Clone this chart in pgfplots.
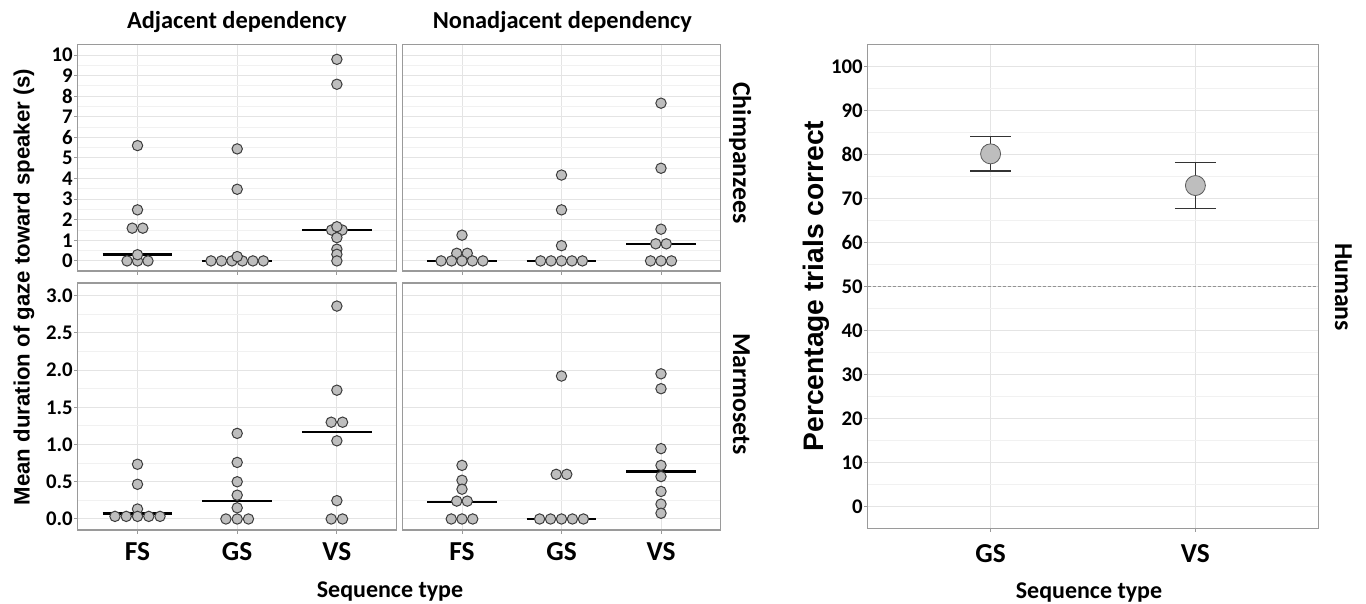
\documentclass[border=0pt]{standalone}
\usepackage{fontspec}
\setmainfont{Carlito}
\newfontfamily\arialfont{Liberation Sans}
\usepackage{pgfplots}
\pgfplotsset{compat=1.18}

\definecolor{ptfill}{HTML}{BEBEBE}
\definecolor{ptedge}{HTML}{3C3C3C}
\definecolor{majgrid}{HTML}{E4E4E4}
\definecolor{mingrid}{HTML}{F1F1F1}
\definecolor{frame}{HTML}{9A9A9A}

\pgfplotsset{
  facet/.style={
    scale only axis, anchor=north west,
    axis line style={frame, line width=0.6pt},
    tick style={frame, line width=0.5pt},
    tick align=outside, tickpos=left,
    major tick length=1.8pt, minor tick length=0pt,
    grid=both,
    major grid style={majgrid, line width=0.5pt},
    minor grid style={mingrid, line width=0.5pt},
    minor y tick num=1,
    yticklabel style={font=\bfseries\fontsize{10.4}{12}\selectfont, inner xsep=0.5pt},
  },
  dots/.style={only marks, mark=*, mark size=2.6pt,
    mark options={fill=ptfill, draw=ptedge, line width=0.5pt}},
  med/.style={black, line width=1.3pt, no marks},
  cat3/.style={xmin=0.4, xmax=3.6, xtick={1,2,3},
    xticklabel style={font=\bfseries\fontsize{13.7}{15}\selectfont},
    xticklabel shift=1.1pt},
  chimp/.style={ymin=-0.49, ymax=10.52, ytick={0,1,2,3,4,5,6,7,8,9,10},
    width=159.5pt, height=113.35pt},
  marm/.style={ymin=-0.148, ymax=3.17, ytick={0,0.5,1,1.5,2,2.5,3},
    width=159.5pt, height=123.5pt},
}

\begin{document}
\begin{tikzpicture}
\useasboundingbox (0pt,0pt) rectangle (683pt,-302pt);

% adjacent, chimpanzees
\begin{axis}[facet, cat3, chimp, at={(38.85pt,-22.15pt)},
  xticklabels={}, yticklabels={0,1,2,3,4,5,6,7,8,9,10}]
\addplot[dots] coordinates {
  (1,5.6) (1,2.48) (0.947,1.59) (1.053,1.59) (0.895,0) (1,0) (1.105,0) (1,0.3)
  (2,5.44) (2,3.48) (1.7375,0) (1.8425,0) (1.9475,0) (2.0525,0) (2.1575,0) (2.2625,0) (2,0.21)
  (3,9.79) (3,8.58) (2.947,1.5) (3.053,1.5) (3,1.66) (3,1.13) (3,0.57) (3,0.32) (3,0)
};
\addplot[med] coordinates {(0.65,0.32) (1.35,0.32)};
\addplot[med] coordinates {(1.65,0) (2.35,0)};
\addplot[med] coordinates {(2.65,1.5) (3.35,1.5)};
\end{axis}

% nonadjacent, chimpanzees
\begin{axis}[facet, cat3, chimp, at={(201.15pt,-22.15pt)}, width=159.2pt,
  xticklabels={}, yticklabels={}, ytick style={draw=none}]
\addplot[dots] coordinates {
  (1,1.25) (0.947,0.37) (1.053,0.37) (0.79,0) (0.895,0) (1,0) (1.105,0) (1.21,0)
  (2,4.17) (2,2.48) (2,0.74) (1.79,0) (1.895,0) (2,0) (2.105,0) (2.21,0)
  (3,7.66) (3,4.5) (3,1.54) (2.947,0.83) (3.053,0.83) (2.895,0) (3,0) (3.105,0)
};
\addplot[med] coordinates {(0.65,0) (1.35,0)};
\addplot[med] coordinates {(1.65,0) (2.35,0)};
\addplot[med] coordinates {(2.65,0.83) (3.35,0.83)};
\end{axis}

% adjacent, marmosets
\begin{axis}[facet, cat3, marm, at={(38.85pt,-141.5pt)},
  xticklabels={FS,GS,VS}, yticklabels={0.0,0.5,1.0,1.5,2.0,2.5,3.0}]
\addplot[dots] coordinates {
  (1,0.735) (1,0.466) (1,0.134) (0.774,0.035) (0.887,0.035) (1,0.035) (1.113,0.035) (1.226,0.035)
  (2,1.15) (2,0.76) (2,0.50) (2,0.32) (2,0.15) (1.887,0) (2,0) (2.113,0)
  (3,2.86) (3,1.73) (2.943,1.30) (3.057,1.30) (3,1.05) (3,0.246) (2.943,0) (3.057,0)
};
\addplot[med] coordinates {(0.65,0.071) (1.35,0.071)};
\addplot[med] coordinates {(1.65,0.24) (2.35,0.24)};
\addplot[med] coordinates {(2.65,1.17) (3.35,1.17)};
\end{axis}

% nonadjacent, marmosets
\begin{axis}[facet, cat3, marm, at={(201.15pt,-141.5pt)}, width=159.2pt,
  xticklabels={FS,GS,VS}, yticklabels={}, ytick style={draw=none}]
\addplot[dots] coordinates {
  (1,0.72) (1,0.52) (1,0.40) (0.947,0.24) (1.053,0.24) (0.892,0) (1,0) (1.108,0)
  (2,1.92) (1.947,0.60) (2.053,0.60) (1.78,0) (1.89,0) (2,0) (2.11,0) (2.22,0)
  (3,1.95) (3,1.75) (3,0.945) (3,0.72) (3,0.57) (3,0.37) (3,0.20) (3,0.077)
};
\addplot[med] coordinates {(0.65,0.23) (1.35,0.23)};
\addplot[med] coordinates {(1.65,0) (2.35,0)};
\addplot[med] coordinates {(2.65,0.64) (3.35,0.64)};
\end{axis}

% humans
\begin{axis}[facet, at={(433.85pt,-22.15pt)}, width=225.3pt, height=242pt,
  xmin=0.4, xmax=2.6, xtick={1,2}, xticklabels={GS,VS},
  xticklabel style={font=\bfseries\fontsize{13.7}{15}\selectfont}, xticklabel shift=2.8pt,
  ymin=-4.9, ymax=105.1, ytick={0,10,20,30,40,50,60,70,80,90,100},
  yticklabels={0,10,20,30,40,50,60,70,80,90,100}]
\addplot[gray!85, dash pattern=on 1.5pt off 1pt, line width=0.6pt] coordinates {(0.4,50) (2.6,50)};
\addplot[black!80, line width=0.6pt] coordinates {(1,76.3) (1,84.1)};
\addplot[black!80, line width=0.6pt] coordinates {(0.9,84.1) (1.1,84.1)};
\addplot[black!80, line width=0.6pt] coordinates {(0.9,76.3) (1.1,76.3)};
\addplot[black!80, line width=0.6pt] coordinates {(2,67.7) (2,78.3)};
\addplot[black!80, line width=0.6pt] coordinates {(1.9,78.3) (2.1,78.3)};
\addplot[black!80, line width=0.6pt] coordinates {(1.9,67.7) (2.1,67.7)};
\addplot[only marks, mark=*, mark size=5pt,
  mark options={fill=ptfill, draw=gray!70!black, line width=0.4pt}]
  coordinates {(1,80.2) (2,73.0)};
\end{axis}

\node[font=\bfseries\fontsize{12.2}{14}\selectfont, anchor=base] at (118.4pt,-14.15pt) {Adjacent dependency};
\node[font=\bfseries\fontsize{12.2}{14}\selectfont, anchor=base] at (281.2pt,-14.15pt) {Nonadjacent dependency};
\node[font=\bfseries\fontsize{12.9}{15}\selectfont, rotate=-90, anchor=base] at (366.5pt,-76.5pt) {Chimpanzees};
\node[font=\bfseries\fontsize{12.9}{15}\selectfont, rotate=-90, anchor=base] at (366.5pt,-197pt) {Marmosets};
\node[font=\bfseries\fontsize{12.9}{15}\selectfont, rotate=-90, anchor=base] at (667.5pt,-143.5pt) {Humans};
\node[font=\arialfont\bfseries\fontsize{11.1}{13}\selectfont, rotate=90, anchor=base] at (14.75pt,-143.5pt) {Mean duration of gaze toward speaker (s)};
\node[font=\arialfont\bfseries\fontsize{14.1}{16}\selectfont, rotate=90, anchor=base] at (411.5pt,-143pt) {Percentage trials correct};
\node[font=\bfseries\fontsize{12}{14}\selectfont, anchor=base] at (195pt,-298.5pt) {Sequence type};
\node[font=\bfseries\fontsize{12}{14}\selectfont, anchor=base] at (544.5pt,-299pt) {Sequence type};
\end{tikzpicture}
\end{document}
